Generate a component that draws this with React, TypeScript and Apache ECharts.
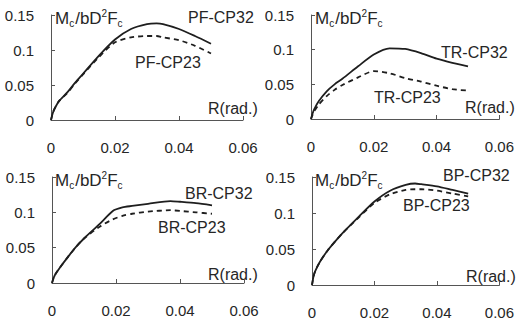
import React, { useEffect, useRef } from "react";
import * as echarts from "echarts";

// ---- data (R in rad, M/bD^2Fc) ----
const xTicks = [0, 0.02, 0.04, 0.06];
const yTicks = [0, 0.05, 0.1, 0.15];

const pfR = [0, 0.0005, 0.001, 0.0025, 0.005, 0.0075, 0.01, 0.015, 0.02, 0.025, 0.03, 0.033, 0.035, 0.04, 0.045, 0.05];
const pfCP32 = [0, 0.009, 0.015, 0.027, 0.039, 0.053, 0.066, 0.092, 0.115, 0.130, 0.137, 0.138, 0.137, 0.130, 0.120, 0.109];
const pfCP23 = [0, 0.009, 0.015, 0.027, 0.038, 0.052, 0.065, 0.090, 0.111, 0.118, 0.120, 0.120, 0.118, 0.114, 0.106, 0.095];

const trR = [0, 0.0005, 0.001, 0.0025, 0.005, 0.0075, 0.01, 0.015, 0.02, 0.025, 0.03, 0.035, 0.04, 0.045, 0.05];
const trCP32 = [0, 0.008, 0.014, 0.026, 0.040, 0.050, 0.058, 0.076, 0.093, 0.102, 0.101, 0.095, 0.087, 0.081, 0.076];
const trCP23 = [0, 0.006, 0.011, 0.021, 0.033, 0.042, 0.049, 0.060, 0.069, 0.066, 0.059, 0.054, 0.048, 0.043, 0.041];

const brR = [0, 0.0005, 0.001, 0.0025, 0.005, 0.0075, 0.01, 0.015, 0.019, 0.022, 0.025, 0.03, 0.037, 0.04, 0.045, 0.05];
const brCP32 = [0, 0.007, 0.012, 0.022, 0.037, 0.051, 0.063, 0.084, 0.102, 0.107, 0.109, 0.112, 0.116, 0.115, 0.113, 0.110];
const brCP23 = [0, 0.007, 0.012, 0.022, 0.037, 0.051, 0.063, 0.080, 0.090, 0.095, 0.098, 0.101, 0.103, 0.102, 0.100, 0.098];

const bpR = [0, 0.0005, 0.001, 0.0025, 0.005, 0.0075, 0.01, 0.015, 0.02, 0.025, 0.03, 0.033, 0.035, 0.04, 0.045, 0.05];
const bpCP32 = [0, 0.012, 0.019, 0.032, 0.048, 0.061, 0.073, 0.095, 0.116, 0.131, 0.139, 0.141, 0.140, 0.137, 0.132, 0.127];
const bpCP23 = [0, 0.012, 0.019, 0.032, 0.048, 0.061, 0.073, 0.094, 0.114, 0.126, 0.132, 0.133, 0.133, 0.131, 0.127, 0.123];

const panelNames = [
  ["PF-CP32", "PF-CP23"],
  ["TR-CP32", "TR-CP23"],
  ["BR-CP32", "BR-CP23"],
  ["BP-CP32", "BP-CP23"],
];

const pair = (xs: number[], ys: number[]) => xs.map((x, i) => [x, ys[i]]);

const FONT = "'Liberation Sans', Arial, sans-serif";
const INK = "#262626";

export default function App() {
  const ref = useRef<HTMLDivElement>(null);
  useEffect(() => {
    if (!ref.current) return;
    const chart = echarts.init(ref.current, undefined, { renderer: "svg" });

    const grids = [
      { left: 51, top: 15, width: 192, height: 105 },
      { left: 311, top: 15, width: 192, height: 104 },
      { left: 52, top: 177, width: 192, height: 106 },
      { left: 312, top: 177, width: 191, height: 108 },
    ];
    const dataSets = [
      [pair(pfR, pfCP32), pair(pfR, pfCP23)],
      [pair(trR, trCP32), pair(trR, trCP23)],
      [pair(brR, brCP32), pair(brR, brCP23)],
      [pair(bpR, bpCP32), pair(bpR, bpCP23)],
    ];

    const axisLine = { show: true, onZero: false, lineStyle: { color: "#555", width: 1 } };
    const xAxis = grids.map((_, i) => ({
      type: "value",
      gridIndex: i,
      min: xTicks[0],
      max: xTicks[xTicks.length - 1],
      interval: 0.02,
      axisLine,
      axisTick: { show: true, inside: true, length: 4, lineStyle: { color: "#555" } },
      splitLine: { show: false },
      axisLabel: {
        margin: 20,
        fontSize: 15,
        fontFamily: FONT,
        color: INK,
        formatter: (v: number) => String(+v.toFixed(2)),
      },
    }));
    const yAxis = grids.map((_, i) => ({
      type: "value",
      gridIndex: i,
      min: yTicks[0],
      max: yTicks[yTicks.length - 1],
      interval: 0.05,
      axisLine,
      axisTick: { show: true, inside: true, length: 4, lineStyle: { color: "#555" } },
      splitLine: { show: false },
      axisLabel: {
        margin: 17,
        fontSize: 15,
        fontFamily: FONT,
        color: INK,
        formatter: (v: number) => String(+v.toFixed(2)),
      },
    }));

    const series: any[] = [];
    dataSets.forEach((ds, i) => {
      series.push({
        type: "line",
        name: panelNames[i][0],
        xAxisIndex: i,
        yAxisIndex: i,
        data: ds[0],
        showSymbol: false,
        smooth: 0.25,
        lineStyle: { color: "#1e1e1e", width: 1.8, type: "solid" },
      });
      series.push({
        type: "line",
        name: panelNames[i][1],
        xAxisIndex: i,
        yAxisIndex: i,
        data: ds[1],
        showSymbol: false,
        smooth: 0.25,
        lineStyle: { color: "#1e1e1e", width: 1.8, type: [5, 4] },
      });
    });

    const txt = (x: number, y: number, t: string, size: number) => ({
      type: "text",
      x,
      y,
      style: { text: t, fontSize: size, fontFamily: FONT, fill: INK, verticalAlign: "middle" },
    });
    const mLabel = (x: number, y: number) => ({
      type: "text",
      x,
      y,
      style: {
        text: "{a|M}{s|c}{a|/bD}{p|2}{a|F}{s|c}",
        fontFamily: FONT,
        fill: INK,
        verticalAlign: "middle",
        rich: {
          a: { fontSize: 17, fontFamily: FONT, fill: INK, lineHeight: 20, verticalAlign: "middle" },
          s: { fontSize: 10, fontFamily: FONT, fill: INK, lineHeight: 20, verticalAlign: "bottom", padding: [0, 1, 0, 0] },
          p: { fontSize: 10, fontFamily: FONT, fill: INK, lineHeight: 20, verticalAlign: "top" },
        },
      },
    });

    const labelPos = [
      { m: [55, 18], a: [188, 17], b: [135, 62], r: [208, 108] },
      { m: [315, 18], a: [441, 52], b: [374, 97], r: [465, 107] },
      { m: [55, 180], a: [185, 193], b: [158, 227], r: [208, 274] },
      { m: [315, 180], a: [443, 175], b: [403, 205], r: [466, 276] },
    ];
    const graphic: any[] = [];
    labelPos.forEach((p, i) => {
      graphic.push(mLabel(p.m[0], p.m[1]));
      graphic.push(txt(p.a[0], p.a[1], panelNames[i][0], 16));
      graphic.push(txt(p.b[0], p.b[1], panelNames[i][1], 16));
      graphic.push(txt(p.r[0], p.r[1], "R(rad.)", 16));
    });

    chart.setOption({
      animation: false,
      backgroundColor: "#ffffff",
      grid: grids,
      xAxis,
      yAxis,
      series,
      graphic,
    });
    return () => chart.dispose();
  }, []);
  return <div ref={ref} style={{ width: 517, height: 321, position: "absolute", left: 0, top: 0 }} />;
}
